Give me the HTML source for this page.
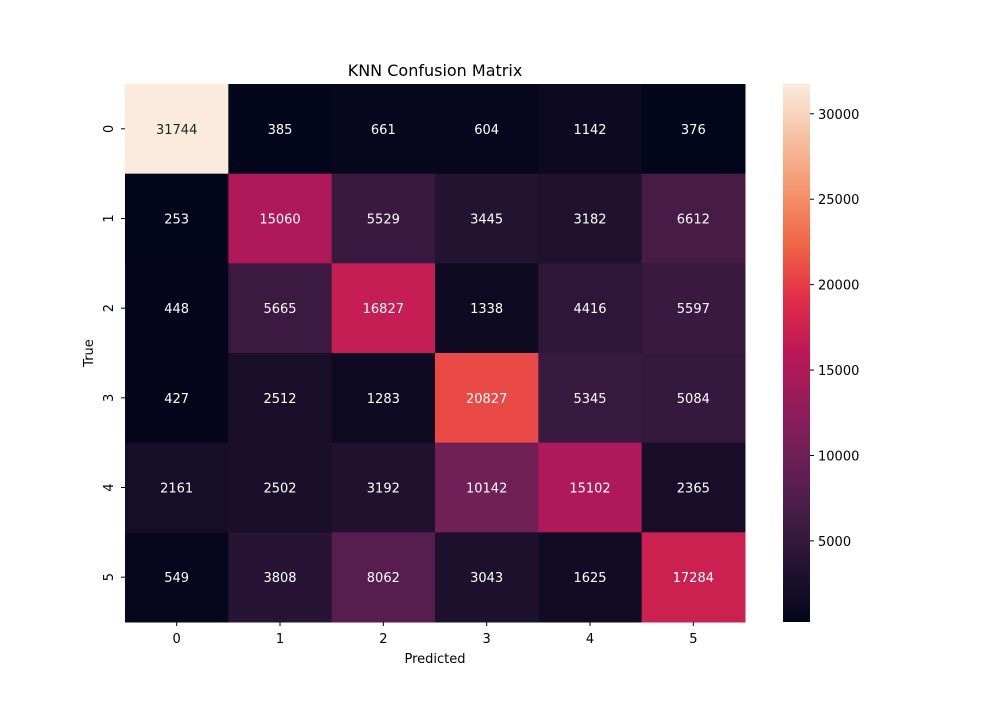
<!DOCTYPE html>
<html><head><meta charset="utf-8"><style>
body{margin:0;background:#fff;font-family:"Liberation Sans","DejaVu Sans",sans-serif;}
svg text{font-family:"DejaVu Sans","Liberation Sans",sans-serif;}
</style></head><body>
<svg id="chart" width="1000" height="700" xmlns="http://www.w3.org/2000/svg">
<defs><linearGradient id="cbg" x1="0" y1="1" x2="0" y2="0"></linearGradient></defs>
<text x="435" y="76" text-anchor="middle" font-size="16">KNN Confusion Matrix</text>
<g id="cells"></g>
<g id="axes"></g>
<rect x="783" y="84" width="27" height="538" fill="url(#cbg)"/>
<g id="cbticks"></g>
<text x="435" y="663" text-anchor="middle" font-size="13">Predicted</text>
<text x="0" y="0" transform="translate(93,353) rotate(-90)" text-anchor="middle" font-size="13">True</text>
</svg>
<script>
const categories=["0","1","2","3","4","5"];
const row0=[31744,385,661,604,1142,376];
const row1=[253,15060,5529,3445,3182,6612];
const row2=[448,5665,16827,1338,4416,5597];
const row3=[427,2512,1283,20827,5345,5084];
const row4=[2161,2502,3192,10142,15102,2365];
const row5=[549,3808,8062,3043,1625,17284];
const matrix=[row0,row1,row2,row3,row4,row5];
const cbTicks=[5000,10000,15000,20000,25000,30000];
const NS="http://www.w3.org/2000/svg";
const X0=125,X1=745,Y0=84,Y1=622;
const all=matrix.flat();const vmin=Math.min(...all),vmax=Math.max(...all);
const stops=[[3,5,26],[34,19,49],[69,28,71],[106,31,86],[146,28,91],[187,24,88],[225,45,72],[240,100,68],[245,148,108],[246,192,162],[250,235,221]];
function cmap(t){t=Math.max(0,Math.min(1,t))*10;const i=Math.min(9,Math.floor(t)),f=t-i;const a=stops[i],b=stops[i+1];
return `rgb(${Math.round(a[0]+(b[0]-a[0])*f)},${Math.round(a[1]+(b[1]-a[1])*f)},${Math.round(a[2]+(b[2]-a[2])*f)})`;}
const norm=v=>(v-vmin)/(vmax-vmin);
const cw=(X1-X0)/categories.length,ch=(Y1-Y0)/categories.length;
const xs=i=>X0+i*cw,ys=i=>Y0+i*ch,cy=v=>Y1-norm(v)*(Y1-Y0);
const cells=document.getElementById('cells');
matrix.forEach((row,r)=>row.forEach((v,c)=>{
 const rc=document.createElementNS(NS,'rect');
 rc.setAttribute('x',xs(c));rc.setAttribute('y',ys(r));rc.setAttribute('width',cw+0.5);rc.setAttribute('height',ch+0.5);
 rc.setAttribute('fill',cmap(norm(v)));
 
 
 cells.appendChild(rc);
 const t=document.createElementNS(NS,'text');
 t.setAttribute('x',xs(c)+cw/2);t.setAttribute('y',ys(r)+ch/2+5);t.setAttribute('text-anchor','middle');t.setAttribute('font-size','13');
 t.setAttribute('fill',norm(v)>0.8?'#262626':'#fff');t.textContent=v;
 
 
 cells.appendChild(t);
}));
const ax=document.getElementById('axes');
categories.forEach((c,i)=>{
 const l=document.createElementNS(NS,'line');l.setAttribute('x1',xs(i)+cw/2);l.setAttribute('x2',xs(i)+cw/2);l.setAttribute('y1',Y1);l.setAttribute('y2',Y1+4);l.setAttribute('stroke','#000');
 
 ax.appendChild(l);
 const t=document.createElementNS(NS,'text');t.setAttribute('x',xs(i)+cw/2);t.setAttribute('y',Y1+21);t.setAttribute('text-anchor','middle');t.setAttribute('font-size','13');t.textContent=c;
 
 ax.appendChild(t);
 const l2=document.createElementNS(NS,'line');l2.setAttribute('x1',X0-4);l2.setAttribute('x2',X0);l2.setAttribute('y1',ys(i)+ch/2);l2.setAttribute('y2',ys(i)+ch/2);l2.setAttribute('stroke','#000');
 
 ax.appendChild(l2);
 const t2=document.createElementNS(NS,'text');t2.setAttribute('transform',`translate(${X0-12},${ys(i)+ch/2}) rotate(-90)`);t2.setAttribute('text-anchor','middle');t2.setAttribute('font-size','13');t2.textContent=c;
 
 ax.appendChild(t2);
});
const g=document.getElementById('cbg');
for(let k=0;k<=40;k++){const s=document.createElementNS(NS,'stop');s.setAttribute('offset',k/40);s.setAttribute('stop-color',cmap(k/40));g.appendChild(s);}
const cb=document.getElementById('cbticks');
cbTicks.forEach(v=>{
 const l=document.createElementNS(NS,'line');l.setAttribute('x1',810);l.setAttribute('x2',814);l.setAttribute('y1',cy(v));l.setAttribute('y2',cy(v));l.setAttribute('stroke','#000');
 
 cb.appendChild(l);
 const t=document.createElementNS(NS,'text');t.setAttribute('x',818);t.setAttribute('y',cy(v)+5);t.setAttribute('font-size','13');t.textContent=v;
 
 cb.appendChild(t);
});
</script>
</body></html>
